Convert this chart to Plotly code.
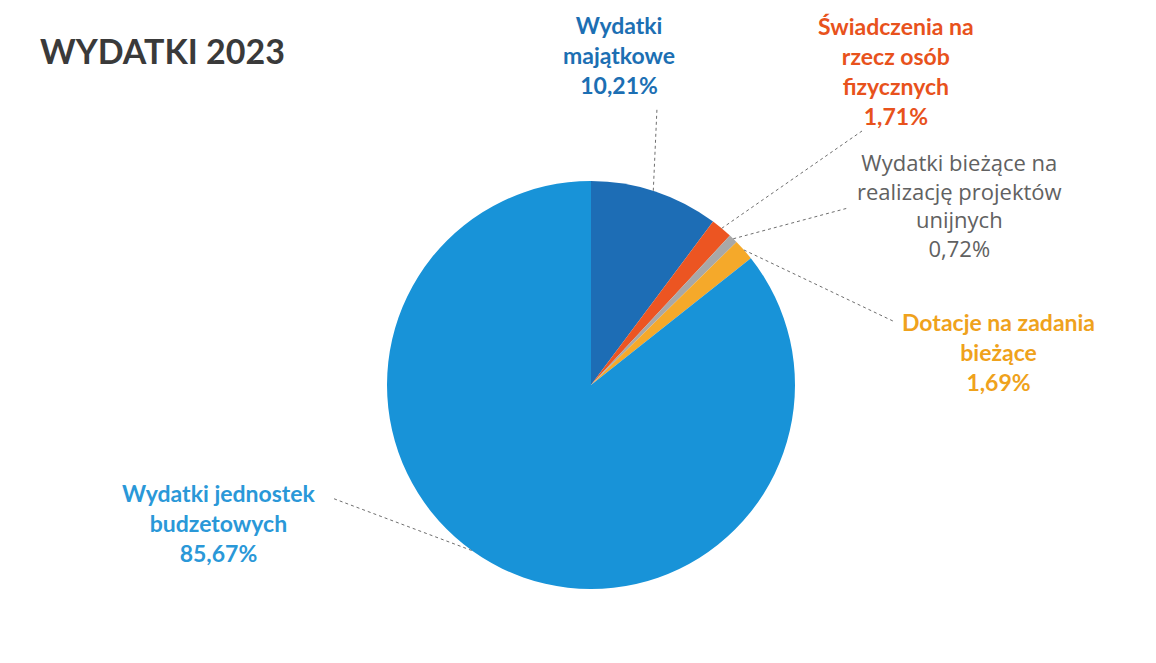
import plotly.graph_objects as go
import math

# ---- data ----
categories = [
    "Wydatki majątkowe",
    "Świadczenia na rzecz osób fizycznych",
    "Wydatki bieżące na realizację projektów unijnych",
    "Dotacje na zadania bieżące",
    "Wydatki jednostek budżetowych",
]
values = [10.21, 1.71, 0.72, 1.69, 85.67]
label_texts = [
    "Wydatki<br>majątkowe<br>10,21%",
    "Świadczenia na<br>rzecz osób<br>fizycznych<br>1,71%",
    "Wydatki bieżące na<br>realizację projektów<br>unijnych<br>0,72%",
    "Dotacje na zadania<br>bieżące<br>1,69%",
    "Wydatki jednostek<br>budzetowych<br>85,67%",
]
title_text = "WYDATKI 2023"

# ---- style / layout ----
W, H = 1156, 663
OFF = 8  # page body margin offset
colors = ["#1D6DB5", "#EC5522", "#A8A8A8", "#F5A92A", "#1893D8"]
text_colors = ["#1C6FB3", "#E8521C", "#616161", "#EFA21C", "#2A98D8"]
font_bold = [True, True, False, True, True]
font_family = ["Lato", "Lato", "Open Sans", "Lato", "Lato"]
font_size = [23, 23, 22, 23, 23]
cx, cy, R = 591 - OFF, 385 - OFF, 204
label_pos = [(619, 55), (896, 71), (959, 205), (998, 352), (219, 523)]
leader_end = [(657, 108), (862, 131), (848, 208), (895, 322), (332, 498)]
leader_angle_offset = [-0.6, 0, 0, 0, 10]

fig = go.Figure()

fig.add_trace(go.Pie(
    labels=categories,
    values=values,
    sort=False,
    direction="clockwise",
    rotation=0,
    marker=dict(colors=colors, line=dict(width=0)),
    textinfo="none",
    hoverinfo="label+percent",
    showlegend=False,
    domain=dict(x=[(cx - R) / W, (cx + R) / W],
                y=[(H - cy - R) / H, (H - cy + R) / H]),
))

# invisible axes in pixel coordinates for annotations and leader lines
fig.add_trace(go.Scatter(x=[0, W], y=[0, H], mode="markers",
                         marker=dict(opacity=0), hoverinfo="skip", showlegend=False))

total = sum(values)
cum = 0.0
for i, v in enumerate(values):
    mid = (cum + v / 2) / total * 360.0 + leader_angle_offset[i]
    cum += v
    a = math.radians(mid)
    px = cx + R * math.sin(a)
    py = cy - R * math.cos(a)
    ex, ey = leader_end[i]
    fig.add_shape(type="line", x0=px, y0=py, x1=ex - OFF, y1=ey - OFF, xref="x", yref="y",
                  line=dict(color="#6E6E6E", width=1, dash="dot"))
    lx, ly = label_pos[i]
    txt = label_texts[i]
    if font_bold[i]:
        txt = "<b>" + txt + "</b>"
    fig.add_annotation(x=lx - OFF, y=ly - OFF, xref="x", yref="y", text=txt, showarrow=False,
                       align="center", xanchor="center", yanchor="middle",
                       font=dict(family=font_family[i], size=font_size[i], color=text_colors[i]))

fig.add_annotation(x=38 - OFF, y=50 - OFF, xref="x", yref="y", text="<b>" + title_text + "</b>",
                   showarrow=False, xanchor="left", yanchor="middle",
                   font=dict(family="Lato", size=34, color="#3A3A3A"))

fig.update_layout(
    width=W, height=H,
    margin=dict(l=0, r=0, t=0, b=0),
    paper_bgcolor="#FFFFFF",
    plot_bgcolor="rgba(0,0,0,0)",
    xaxis=dict(range=[0, W], visible=False, fixedrange=True),
    yaxis=dict(range=[H, 0], visible=False, fixedrange=True),
)

fig.write_html("out.html")
